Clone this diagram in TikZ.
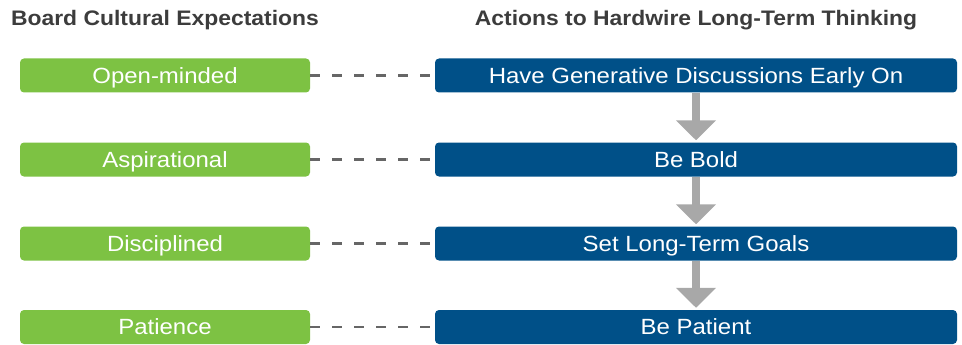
\documentclass[tikz,border=0pt]{standalone}
\usepackage{fontspec}
\setmainfont{Liberation Sans}[FakeStretch=1.09]
\usetikzlibrary{arrows.meta}
\definecolor{expgreen}{HTML}{7DC243}
\definecolor{actblue}{HTML}{005088}
\definecolor{flowgray}{HTML}{A8A8A8}
\definecolor{linkgray}{HTML}{666666}
\definecolor{headgray}{HTML}{3C3C3C}
\tikzset{
  x=1pt, y=-1pt,
  heading/.style={anchor=base, inner sep=0pt, text=headgray,
    font=\fontsize{21}{25}\selectfont\bfseries},
  boxtext/.style={rounded corners=4pt, minimum height=34pt, inner sep=0pt,
    text=white, text height=15.8pt, text depth=0pt,
    font=\fontsize{22}{26}\selectfont},
  expbox/.style={boxtext, fill=expgreen, minimum width=290pt},
  actbox/.style={boxtext, fill=actblue, minimum width=522pt},
  link/.style={draw=linkgray, line width=2.6pt, dash pattern=on 10pt off 12pt},
  flow/.style={draw=flowgray, line width=8pt,
    -{Triangle[width=39pt,length=20pt]}, shorten >=2pt},
}
\begin{document}
\begin{tikzpicture}
\useasboundingbox (0,0) rectangle (962,345);
% column headings
\node[heading] (h1) at (165,26) {Board Cultural Expectations};
\node[heading] (h2) at (696,26) {Actions to Hardwire Long-Term Thinking};
% cultural expectations
\node[expbox] (e1) at (165,75.5) {Open-minded};
\node[expbox] (e2) at (165,159.5) {Aspirational};
\node[expbox] (e3) at (165,243.5) {Disciplined};
\node[expbox] (e4) at (165,327) {Patience};
% actions
\node[actbox] (a1) at (696,75.5) {Have Generative Discussions Early On};
\node[actbox] (a2) at (696,159.5) {Be Bold};
\node[actbox] (a3) at (696,243.5) {Set Long-Term Goals};
\node[actbox] (a4) at (696,327) {Be Patient};
% links between the columns
\foreach \i in {1,...,4} \draw[link] (e\i.east) -- (a\i.west);
% sequence of actions
\draw[flow] (a1.south) -- (a2.north);
\draw[flow] (a2.south) -- (a3.north);
\draw[flow] (a3.south) -- (a4.north);
\end{tikzpicture}
\end{document}
